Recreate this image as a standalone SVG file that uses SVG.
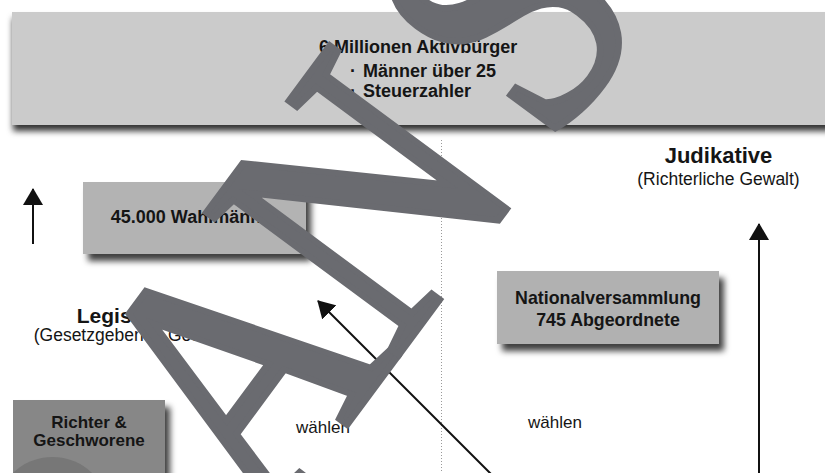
<svg xmlns="http://www.w3.org/2000/svg" width="825" height="473" viewBox="0 0 825 473">
<style>
.b{font-family:"Liberation Sans",Arial,sans-serif;font-weight:bold;fill:#151515}
.r{font-family:"Liberation Sans",Arial,sans-serif;fill:#151515}
.ln{stroke:#111;stroke-width:2;fill:none}
.wm{font-family:"Liberation Serif","Times New Roman",serif;font-size:365px;fill:#6a6b70;stroke:#6a6b70;stroke-width:7}
</style>
<defs>
<filter id="sh" x="-10%" y="-20%" width="130%" height="160%"><feDropShadow dx="5" dy="7" stdDeviation="3" flood-color="#000" flood-opacity="0.75"/></filter>
<filter id="bsh" x="-5%" y="-10%" width="110%" height="140%"><feDropShadow dx="1" dy="6" stdDeviation="3" flood-color="#000" flood-opacity="0.8"/></filter>
<marker id="ah" viewBox="0 0 17 20" refX="16" refY="10" markerWidth="17" markerHeight="20" markerUnits="userSpaceOnUse" orient="auto"><path d="M0,0 L17,10 L0,20 z" fill="#111"/></marker>
</defs>
<rect width="825" height="473" fill="#fff"/>
<g id="aktivbuerger">
<rect x="12" y="12" width="820" height="113" fill="#cbcbcb" filter="url(#bsh)"/>
<text class="b" x="319" y="53" font-size="18">6 Millionen Aktivbürger</text>
<text class="b" x="350" y="77" font-size="18">·</text>
<text class="b" x="363" y="77" font-size="18">Männer über 25</text>
<text class="b" x="350" y="97" font-size="18">·</text>
<text class="b" x="363" y="97" font-size="18">Steuerzahler</text>
</g>
<line x1="441.5" y1="140" x2="441.5" y2="473" stroke="#9a9a9a" stroke-width="1" stroke-dasharray="1,2"/>
<g id="wahlmaenner">
<rect x="83" y="182" width="223" height="72" fill="#b3b3b3" filter="url(#sh)"/>
<text class="b" x="194.5" y="223" font-size="18" text-anchor="middle">45.000 Wahlmänner</text>
</g>
<g id="nationalversammlung">
<rect x="497" y="271" width="222" height="73" fill="#b1b1b1" filter="url(#sh)"/>
<text class="b" x="608" y="304" font-size="17.8" text-anchor="middle">Nationalversammlung</text>
<text class="b" x="608" y="326" font-size="17.8" text-anchor="middle">745 Abgeordnete</text>
</g>
<g id="richter">
<rect x="13" y="400" width="152" height="80" fill="#878787" filter="url(#sh)"/>
<circle cx="52.5" cy="514" r="57" fill="#777"/>
<rect x="0" y="400" width="13" height="73" fill="#fff"/>
<text class="b" x="89" y="428" font-size="17" text-anchor="middle">Richter &amp;</text>
<text class="b" x="89" y="446" font-size="17" text-anchor="middle">Geschworene</text>
</g>
<g id="legislative">
<text class="b" x="131" y="323" font-size="21" text-anchor="middle">Legislative</text>
<text class="r" x="131" y="341" font-size="17.5" text-anchor="middle">(Gesetzgebende Gewalt)</text>
</g>
<g id="judikative">
<text class="b" x="718.5" y="163" font-size="22" text-anchor="middle">Judikative</text>
<text class="r" x="718.5" y="185" font-size="17.5" text-anchor="middle">(Richterliche Gewalt)</text>
</g>
<text class="r" x="296" y="433" font-size="17">wählen</text>
<text class="r" x="528" y="428" font-size="17">wählen</text>
<g id="connectors">
<line class="ln" x1="33" y1="244" x2="33" y2="189" marker-end="url(#ah)"/>
<line class="ln" x1="759" y1="473" x2="759" y2="224" marker-end="url(#ah)"/>
<line class="ln" x1="500" y1="483" x2="318" y2="301" marker-end="url(#ah)"/>
</g>
<g id="watermark" transform="translate(266,534) rotate(-53.5) scale(0.85,1)">
<text class="wm" x="0" y="0">A<tspan dx="-12">N</tspan><tspan dx="46">S</tspan></text>
</g>
</svg>
